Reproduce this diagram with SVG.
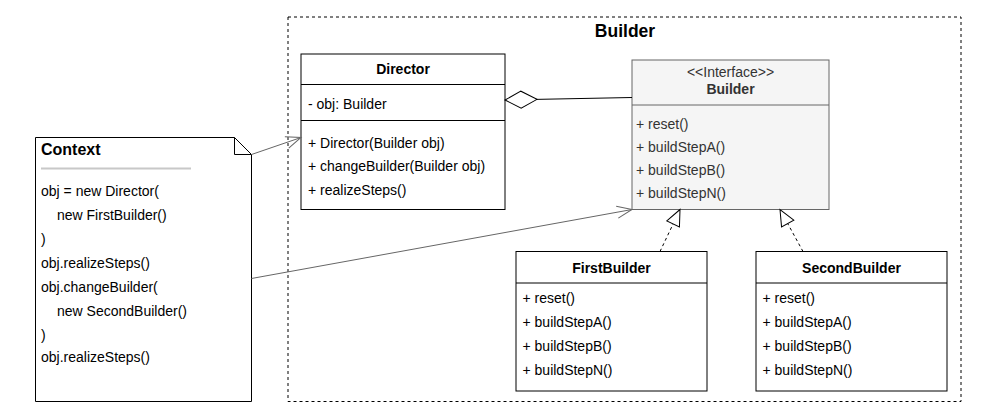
<svg xmlns="http://www.w3.org/2000/svg" width="1000" height="420" viewBox="0 0 1000 420">
<style>
text{font-family:"Liberation Sans",Arial,sans-serif;font-size:14px;fill:#000}
.b{font-weight:bold}
.c{text-anchor:middle}
.box{fill:#fff;stroke:#000;stroke-width:1}
.ibox{fill:#f5f5f5;stroke:#666;stroke-width:1}
.idiv{stroke:#666;stroke-width:1}
.div{stroke:#000;stroke-width:1}
.it{fill:#333}
.arr{fill:none;stroke:#666;stroke-width:1}
.real{fill:none;stroke:#000;stroke-width:1;stroke-dasharray:3,3}
.agg{fill:none;stroke:#000;stroke-width:1}
</style>
<defs>
<marker id="open" markerUnits="userSpaceOnUse" markerWidth="20" markerHeight="20" refX="0" refY="0" orient="auto" overflow="visible" viewBox="-20 -10 20 20">
<path d="M-15,-6 L0,0 L-15,6" fill="none" stroke="#666" stroke-width="1"/>
</marker>
<marker id="tri" markerUnits="userSpaceOnUse" markerWidth="20" markerHeight="20" refX="0" refY="0" orient="auto" overflow="visible" viewBox="-20 -10 20 20">
<path d="M-16,-7 L0,0 L-16,7 Z" fill="#fff" stroke="#000" stroke-width="1"/>
</marker>
<marker id="dia" markerUnits="userSpaceOnUse" markerWidth="40" markerHeight="20" refX="0" refY="0" orient="auto" overflow="visible" viewBox="-40 -10 40 20">
<path d="M0,0 L-16,-8.5 L-32,0 L-16,8.5 Z" fill="#fff" stroke="#000" stroke-width="1"/>
</marker>
</defs>

<g id="package">
<rect x="288" y="17" width="673" height="384.5" fill="none" stroke="#000" stroke-width="1" stroke-dasharray="3,3"/>
<text x="625" y="37" class="b c" style="font-size:17.5px">Builder</text>
</g>

<g id="director">
<rect class="box" x="301" y="54" width="204" height="155.5"/>
<line class="div" x1="301" y1="84.5" x2="505" y2="84.5"/>
<line class="div" x1="301" y1="120.5" x2="505" y2="120.5"/>
<text x="403" y="74" class="b c">Director</text>
<text x="308" y="109">- obj: Builder</text>
<text x="308" y="147.5">+ Director(Builder obj)</text>
<text x="308" y="171">+ changeBuilder(Builder obj)</text>
<text x="308" y="194.5">+ realizeSteps()</text>
</g>

<g id="builder-interface">
<rect class="ibox" x="632" y="60" width="197" height="149.5"/>
<line class="idiv" x1="632" y1="105" x2="829" y2="105"/>
<text x="730.5" y="77" class="c it">&lt;&lt;Interface&gt;&gt;</text>
<text x="730.5" y="93.5" class="b c it">Builder</text>
<text x="636" y="129" class="it">+ reset()</text>
<text x="636" y="152" class="it">+ buildStepA()</text>
<text x="636" y="175" class="it">+ buildStepB()</text>
<text x="636" y="198" class="it">+ buildStepN()</text>
</g>

<g id="first-builder">
<rect class="box" x="516" y="251.5" width="191" height="139.5"/>
<line class="div" x1="516" y1="283" x2="707" y2="283"/>
<text x="611.5" y="273" class="b c">FirstBuilder</text>
<text x="522.5" y="303">+ reset()</text>
<text x="522.5" y="327">+ buildStepA()</text>
<text x="522.5" y="351">+ buildStepB()</text>
<text x="522.5" y="375">+ buildStepN()</text>
</g>

<g id="second-builder">
<rect class="box" x="756" y="251.5" width="191" height="139.5"/>
<line class="div" x1="756" y1="283" x2="947" y2="283"/>
<text x="851.5" y="273" class="b c">SecondBuilder</text>
<text x="762.5" y="303">+ reset()</text>
<text x="762.5" y="327">+ buildStepA()</text>
<text x="762.5" y="351">+ buildStepB()</text>
<text x="762.5" y="375">+ buildStepN()</text>
</g>

<g id="context">
<path d="M35.5,137.5 H234.5 L251.5,154.5 V401.5 H35.5 Z" fill="#fff" stroke="#000" stroke-width="1"/>
<path d="M234.5,137.5 V154.5 H251.5" fill="none" stroke="#000" stroke-width="1"/>
<text x="41" y="155" class="b" style="font-size:16px">Context</text>
<line x1="41" y1="168.5" x2="191" y2="168.5" stroke="#c8c8c8" stroke-width="2"/>
<text x="41" y="196">obj = new Director(</text>
<text x="57" y="220">new FirstBuilder()</text>
<text x="41" y="244">)</text>
<text x="41" y="268">obj.realizeSteps()</text>
<text x="41" y="292">obj.changeBuilder(</text>
<text x="57" y="316">new SecondBuilder()</text>
<text x="41" y="340">)</text>
<text x="41" y="362">obj.realizeSteps()</text>
</g>

<g id="connectors">
<line class="arr" x1="251.5" y1="154.5" x2="301" y2="137.5" marker-end="url(#open)"/>
<line class="arr" x1="251.5" y1="278.5" x2="632" y2="209.5" marker-end="url(#open)"/>
<line class="agg" x1="632" y1="97.5" x2="505" y2="100" marker-end="url(#dia)"/>
<line class="real" x1="660" y1="251.5" x2="680" y2="209.5" marker-end="url(#tri)"/>
<line class="real" x1="803" y1="251.5" x2="780" y2="209.5" marker-end="url(#tri)"/>
</g>
</svg>
